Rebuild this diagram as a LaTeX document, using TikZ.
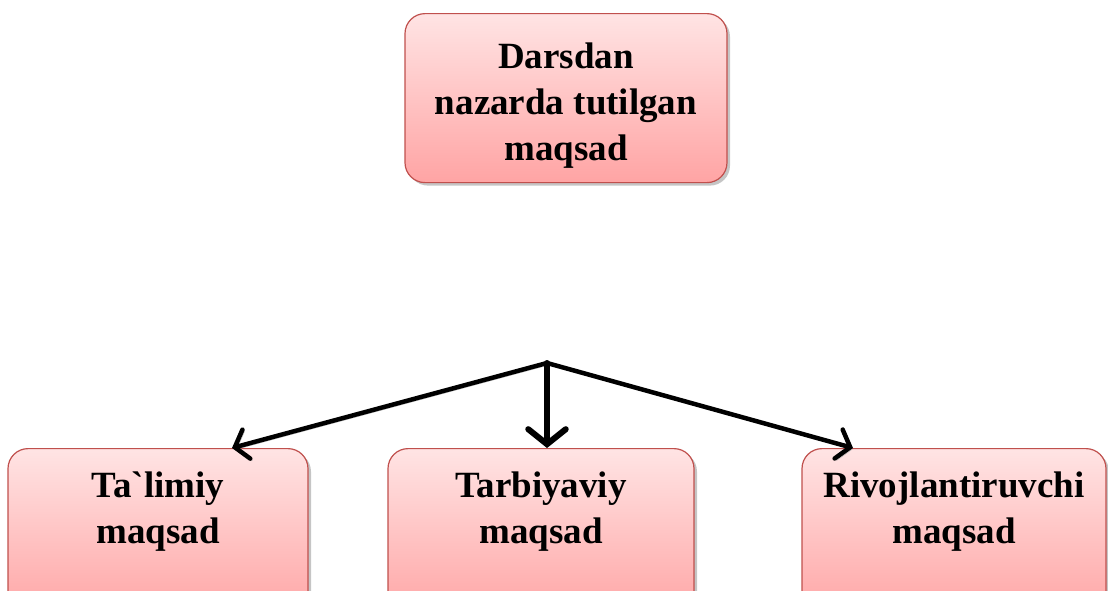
\documentclass[tikz,border=0pt]{standalone}
\usepackage{fontspec}
\setmainfont{Liberation Serif}
\usepackage{tikz}
\usetikzlibrary{arrows.meta,shadows}
\definecolor{zielrand}{HTML}{C0504D}
\definecolor{zieloben}{HTML}{FFE4E4}
\definecolor{zielunten}{HTML}{FFA4A4}
\tikzset{ziel/.style={draw=zielrand, line width=1.2pt, rounded corners=20pt, top color=zieloben, bottom color=zielunten, drop shadow={shadow xshift=3pt, shadow yshift=-3pt, fill=black!45}, align=center, inner sep=0pt, anchor=north, font=\bfseries\fontsize{37}{46}\selectfont},pfeil/.style={line width=4.5pt, line cap=round, -{Straight Barb[length=#1, width=2.5*#1, line cap=round]}, preaction={draw=black!30, transform canvas={xshift=2pt, yshift=-2pt}}},pfeil/.default={12pt}}

\begin{document}
\begin{tikzpicture}[x=1pt, y=-1pt]
	\useasboundingbox (0,0) rectangle (1108,590);
	%Ziel
	\node[ziel, minimum width=322pt, minimum height=169pt, text height=147pt, text depth=22pt] (darsdan) at (566,13) {Darsdan\\nazarda tutilgan\\maqsad};
	%Teilziele
	\node[ziel, minimum width=300pt, minimum height=170pt, text height=95pt, text depth=75pt] (talimiy) at (158,448) {Ta\textasciigrave limiy\\maqsad};
	\node[ziel, minimum width=306pt, minimum height=170pt, text height=95pt, text depth=75pt] (tarbiyaviy) at (541,448) {Tarbiyaviy\\maqsad};
	\node[ziel, minimum width=304pt, minimum height=170pt, text height=95pt, text depth=75pt] (rivoj) at (954,448) {Rivojlantiruvchi\\maqsad};
	%Pfeile
	\coordinate (knoten) at (547,363);
	\draw[pfeil] (knoten) -- ([xshift=74pt]talimiy.north);
	\draw[pfeil=15pt, line width=6pt] (knoten) -- (knoten |- tarbiyaviy.north);
	\draw[pfeil] (knoten) -- ([xshift=-101pt]rivoj.north);
\end{tikzpicture}
\end{document}
